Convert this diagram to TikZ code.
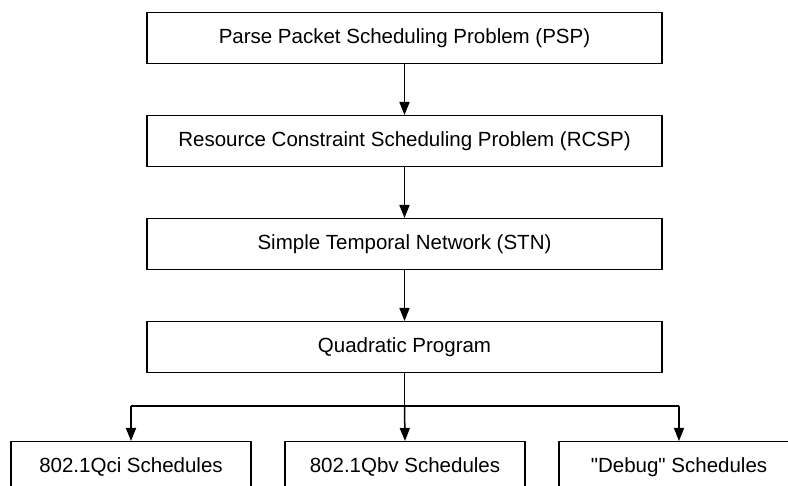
\documentclass[tikz,border=0pt]{standalone}
\usepackage{fontspec}
\setmainfont{Liberation Sans}[Ligatures=TeXOff]
\usetikzlibrary{arrows.meta}
\begin{document}
\begin{tikzpicture}[x=1pt,y=-1pt,
  stagebox/.style={draw,line width=1.5pt,minimum width=515pt,minimum height=51pt,
    inner sep=0pt,font=\fontsize{20.5}{24}\selectfont,anchor=north},
  outbox/.style={draw,line width=1.5pt,minimum width=240pt,minimum height=51pt,
    inner sep=0pt,font=\fontsize{20.5}{24}\selectfont,anchor=north},
  flow/.style={line width=1.5pt,-{Triangle[length=13pt,width=10pt]}},
  branch/.style={line width=1.5pt}]
\useasboundingbox (0,0) rectangle (788,486);
\clip (0,0) rectangle (788,486);
% main pipeline
\node[stagebox] (psp)  at (404.5,12)  {Parse Packet Scheduling Problem (PSP)};
\node[stagebox] (rcsp) at (404.5,115) {Resource Constraint Scheduling Problem (RCSP)};
\node[stagebox] (stn)  at (404.5,218) {Simple Temporal Network (STN)};
\node[stagebox] (qp)   at (404.5,321) {Quadratic Program};
% outputs
\node[outbox] (qci) at (131,441) {802.1Qci Schedules};
\node[outbox] (qbv) at (405,441) {802.1Qbv Schedules};
\node[outbox] (dbg) at (679,441) {"Debug" Schedules};
% connectors
\draw[flow] (psp) -- (rcsp);
\draw[flow] (rcsp) -- (stn);
\draw[flow] (stn) -- (qp);
\coordinate (split) at (qp.south |- 0,406);
\draw[branch] (qp.south) -- (split);
\draw[branch] (qci.north |- split) -- (dbg.north |- split);
\draw[flow] (split) -- (qbv.north);
\draw[flow] (qci.north |- split) -- (qci.north);
\draw[flow] (dbg.north |- split) -- (dbg.north);
\end{tikzpicture}
\end{document}
